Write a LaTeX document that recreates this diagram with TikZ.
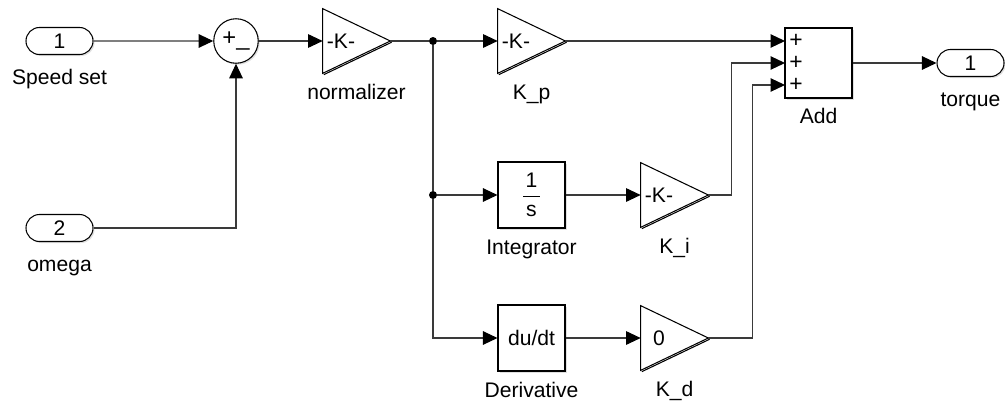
\documentclass[tikz,border=0pt]{standalone}
\usepackage{amsmath}
\usepackage{fontspec}
\setmainfont{Liberation Sans}
\usetikzlibrary{arrows.meta,shapes.misc,shadows,positioning}
\definecolor{ink}{HTML}{000000}
\definecolor{wirec}{HTML}{3A3A3A}
\definecolor{shade}{HTML}{D6D6D6}
\newcommand{\blkfont}{\fontsize{12}{14}\selectfont}
\newcommand{\gainval}[1]{\makebox[13.4mm][l]{\makebox[7.2mm]{#1}}}
\tikzset{
  % ---- ports ------------------------------------------------------
  port/.style   = {rounded rectangle, draw=ink, line width=.6pt, fill=white,
                   minimum width=13.4mm, minimum height=5.4mm, inner sep=0pt,
                   font=\blkfont,
                   drop shadow={shadow xshift=.3mm, shadow yshift=-.3mm,
                                fill=black, opacity=.12}},
  % ---- blocks -----------------------------------------------------
  blk/.style    = {rectangle, draw=ink, line width=.6pt, fill=white,
                   inner sep=0pt, minimum width=13.4mm, minimum height=13.2mm,
                   font=\blkfont,
                   drop shadow={shadow xshift=.3mm, shadow yshift=-.3mm,
                                fill=black, opacity=.12}},
  sumblk/.style = {circle, draw=ink, line width=.6pt, fill=white,
                   inner sep=0pt, minimum size=8.9mm,
                   font=\fontsize{13.5}{15}\selectfont,
                   drop shadow={shadow xshift=.3mm, shadow yshift=-.3mm,
                                fill=black, opacity=.12}},
  gain/.style   = {rectangle, inner sep=0pt, minimum height=12.8mm,
                   font=\blkfont,
                   append after command={\pgfextra{
                     \draw[shade, line width=.6pt]
                       ([xshift=.25mm,yshift=-.25mm]\tikzlastnode.east) --
                       ([xshift=.25mm,yshift=-.25mm]\tikzlastnode.south west);
                     \draw[ink, line width=.6pt, line join=miter]
                       (\tikzlastnode.north west) -- (\tikzlastnode.east) --
                       (\tikzlastnode.south west) -- cycle;}}},
  tapdot/.style = {circle, fill=ink, inner sep=0pt, minimum size=1.6mm},
  sign/.style   = {font=\fontsize{13}{15}\selectfont, inner sep=0pt},
  % ---- signal lines -----------------------------------------------
  sig/.style    = {draw=wirec, line width=.6pt,
                   -{Triangle[length=2.9mm, width=2.7mm, color=ink]}},
  tap/.style    = {draw=wirec, line width=.6pt},
  % ---- names under blocks -----------------------------------------
  lbl/.style    = {font=\blkfont, inner sep=0pt},
}
\begin{document}
\begin{tikzpicture}[x=0.2mm, y=-0.2mm]
  \useasboundingbox (0,0) rectangle (1005,406);
  % inputs and error
  \node[port] (spd) at (59.5,41) {1};
  \node[port] (omg) at (59.5,228) {2};
  \node[sumblk] (err) at (236,41) {+\_};
  \node[gain] (norm) at (356.5,41) {\gainval{-K-}};
  % taps
  \node[tapdot] (tap1) at (433,41) {};
  \node[tapdot] (tap2) at (433,195) {};
  % P, I and D paths
  \node[gain] (kp) at (531.5,41) {\gainval{-K-}};
  \node[blk] (intg) at (531.5,195) {$\dfrac{\makebox[3.4mm]{1}}{\mbox{s}}$};
  \node[gain] (ki) at (674.5,195) {\gainval{-K-}};
  \node[blk] (drv) at (531.5,338) {du/dt};
  \node[gain] (kd) at (674.5,338) {\gainval{0}};
  % sum and output
  \node[blk, minimum height=14mm] (add) at (818.5,63) {};
  \node[sign] (addp1) at (796,41) {+};
  \node[sign] (addp2) at (796,63) {+};
  \node[sign] (addp3) at (796,85) {+};
  \coordinate (add1) at (785,41);
  \coordinate (add2) at (785,63);
  \coordinate (add3) at (785,85);
  \node[port] (trq) at (970.5,63) {1};
  % names
  \node[lbl, below=5.9mm of spd, anchor=base] (spdlab) {Speed set};
  \node[lbl, below=5.9mm of omg, anchor=base] (omglab) {omega};
  \node[lbl, below=5.2mm of norm, anchor=base] (normlab) {normalizer};
  \node[lbl, below=5.2mm of kp, anchor=base] (kplab) {K\_p};
  \node[lbl, below=5.2mm of intg, anchor=base] (intglab) {Integrator};
  \node[lbl, below=5.2mm of ki, anchor=base] (kilab) {K\_i};
  \node[lbl, below=5.2mm of drv, anchor=base] (drvlab) {Derivative};
  \node[lbl, below=5.2mm of kd, anchor=base] (kdlab) {K\_d};
  \node[lbl, below=5mm of add, anchor=base] (addlab) {Add};
  \node[lbl, below=5.9mm of trq, anchor=base] (trqlab) {torque};
  % signals
  \draw[sig] (spd) -- (err);
  \draw[sig] (omg) -| (err);
  \draw[sig] (err) -- (norm);
  \draw[tap] (norm) -- (tap1);
  \draw[sig] (tap1) -- (kp);
  \draw[tap] (tap1) -- (tap2);
  \draw[sig] (tap2) -- (intg);
  \draw[sig] (tap2) |- (drv);
  \draw[sig] (intg) -- (ki);
  \draw[sig] (drv) -- (kd);
  \draw[sig] (kp) -- (add1);
  \draw[sig] (ki.east) -- ++(23.5,0) |- (add2);
  \draw[sig] (kd.east) -- ++(44.5,0) |- (add3);
  \draw[sig] (add) -- (trq);
\end{tikzpicture}
\end{document}
